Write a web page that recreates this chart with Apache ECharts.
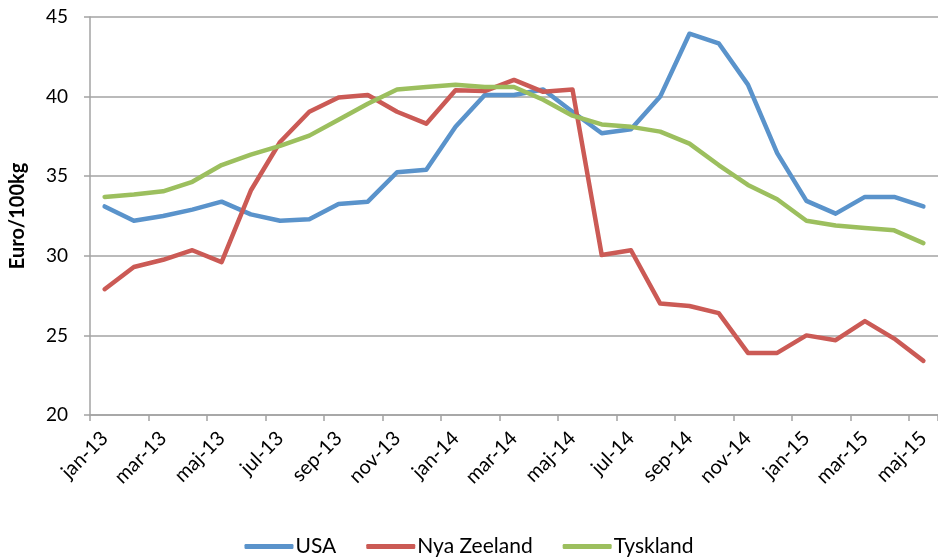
<!DOCTYPE html>
<html>
<head>
<meta charset="utf-8">
<script src="https://cdn.jsdelivr.net/npm/echarts@6/dist/echarts.min.js"></script>
<style>
  html, body { margin: 0; padding: 0; background: #fff; }
  #chart { width: 938px; height: 559px; }
</style>
</head>
<body>
<div id="chart"></div>
<script>
// Monthly prices, Euro per 100 kg
const months = [
  'jan-13','feb-13','mar-13','apr-13','maj-13','jun-13','jul-13','aug-13','sep-13','okt-13','nov-13','dec-13',
  'jan-14','feb-14','mar-14','apr-14','maj-14','jun-14','jul-14','aug-14','sep-14','okt-14','nov-14','dec-14',
  'jan-15','feb-15','mar-15','apr-15','maj-15'
];

const usa = [
  33.1, 32.2, 32.5, 32.9, 33.4, 32.6, 32.2, 32.3, 33.25, 33.4, 35.25, 35.4,
  38.1, 40.1, 40.1, 40.45, 39.05, 37.7, 37.95, 40.0, 43.95, 43.35, 40.75, 36.45,
  33.45, 32.65, 33.7, 33.7, 33.1
];

const nyaZeeland = [
  27.9, 29.3, 29.75, 30.35, 29.6, 34.1, 37.15, 39.05, 39.95, 40.1, 39.05, 38.3,
  40.4, 40.35, 41.05, 40.3, 40.45, 30.05, 30.35, 27.0, 26.85, 26.4, 23.9, 23.9,
  25.0, 24.7, 25.9, 24.8, 23.4
];

const tyskland = [
  33.7, 33.85, 34.05, 34.65, 35.7, 36.35, 36.9, 37.55, 38.55, 39.55, 40.45, 40.6,
  40.75, 40.6, 40.6, 39.8, 38.8, 38.25, 38.1, 37.8, 37.05, 35.7, 34.45, 33.55,
  32.2, 31.9, 31.75, 31.6, 30.8
];

const yTicks = { min: 20, max: 45, step: 5 };

const FONT = 'Lato, "Open Sans", sans-serif';
const GRID_GREY = '#a3a3a3';

const chart = echarts.init(document.getElementById('chart'), null, { renderer: 'canvas' });

function lineSeries(name, data, color) {
  return {
    name: name,
    type: 'line',
    data: data,
    symbol: 'none',
    smooth: false,
    lineStyle: { color: color, width: 4.5, cap: 'round', join: 'round' },
    itemStyle: { color: color },
    animation: false
  };
}

chart.setOption({
  backgroundColor: '#ffffff',
  animation: false,
  grid: { left: 88, top: 17, width: 858, height: 398, containLabel: false },
  legend: {
    bottom: -3,
    left: 'center',
    icon: 'roundRect',
    itemWidth: 49,
    itemHeight: 5,
    itemGap: 30,
    textStyle: { fontFamily: FONT, fontSize: 21, color: '#000', padding: [0, 0, 0, -3] },
    data: ['USA', 'Nya Zeeland', 'Tyskland']
  },
  xAxis: {
    type: 'category',
    data: months,
    boundaryGap: true,
    axisLine: { lineStyle: { color: GRID_GREY, width: 1.5 } },
    axisTick: { show: true, interval: 1, length: 6, lineStyle: { color: GRID_GREY, width: 1.5 } },
    axisLabel: {
      interval: 1,
      rotate: 45,
      margin: 20,
      fontFamily: FONT,
      fontSize: 20,
      color: '#000'
    },
    splitLine: { show: false }
  },
  yAxis: {
    type: 'value',
    min: yTicks.min,
    max: yTicks.max,
    interval: yTicks.step,
    name: 'Euro/100kg',
    nameLocation: 'middle',
    nameGap: 62,
    nameRotate: 90,
    nameTextStyle: { fontFamily: FONT, fontSize: 20, fontWeight: 'bold', color: '#000' },
    axisLine: { show: true, lineStyle: { color: GRID_GREY, width: 1.5 } },
    axisTick: { show: true, length: 6, lineStyle: { color: GRID_GREY, width: 1.5 } },
    axisLabel: { margin: 22, fontFamily: FONT, fontSize: 19, color: '#000' },
    splitLine: { show: true, lineStyle: { color: GRID_GREY, width: 1.5 } }
  },
  series: [
    lineSeries('USA', usa, '#5a93cb'),
    lineSeries('Nya Zeeland', nyaZeeland, '#cb5a55'),
    lineSeries('Tyskland', tyskland, '#9cbf5e')
  ]
});
</script>
</body>
</html>
